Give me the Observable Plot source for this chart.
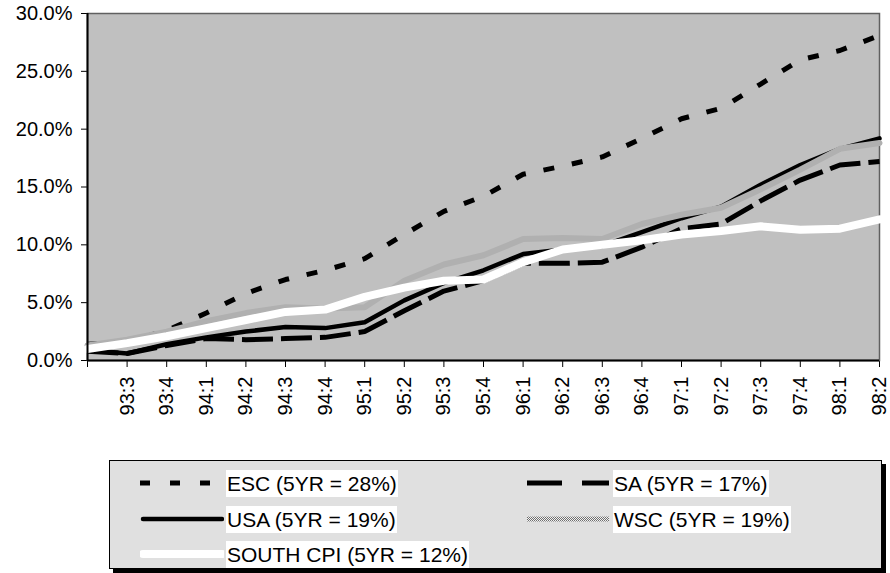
<!DOCTYPE html>
<html>
<head>
<meta charset="utf-8">
<script src="https://cdn.jsdelivr.net/npm/d3@7"></script>
<script src="https://cdn.jsdelivr.net/npm/@observablehq/plot@0.6"></script>
<style>
  body { margin: 0; background: #fff; font-family: "Liberation Sans", Arial, sans-serif; }
  #wrap { position: relative; width: 890px; height: 573px; overflow: hidden; }
  #legend { position: absolute; left: 109px; top: 460px; width: 771px; height: 107px;
            background: #e0e0e0; border: 1px solid #000; box-shadow: 4px 4px 0 #000; }
  .item { position: absolute; height: 28px; display: flex; align-items: center; }
  .item svg { margin-right: 2px; }
  .item span { background: #fff; font-size: 21px; line-height: 27px; padding: 0 1px; color: #000; }
</style>
</head>
<body>
<div id="wrap">
  <div id="chart"></div>
  <div id="legend"></div>
</div>
<script>
// quarters (first category has no printed label)
const quarters = ["", "93:3", "93:4", "94:1", "94:2", "94:3", "94:4", "95:1", "95:2", "95:3", "95:4",
  "96:1", "96:2", "96:3", "96:4", "97:1", "97:2", "97:3", "97:4", "98:1", "98:2"]

// cumulative growth, percent
const esc = [1.4, 1.6, 2.6, 4.1, 5.8, 7.0, 7.8, 8.8, 10.9, 12.9, 14.2, 16.1, 16.8, 17.6, 19.2, 20.9, 21.8, 23.9, 26.0, 26.8, 28.1]
const sa  = [0.8, 0.6, 1.3, 1.9, 1.8, 1.9, 2.0, 2.5, 4.3, 6.0, 6.9, 8.4, 8.4, 8.5, 9.8, 11.4, 11.8, 13.8, 15.6, 16.9, 17.2]
const usa = [0.9, 0.6, 1.4, 2.0, 2.5, 2.9, 2.8, 3.3, 5.2, 6.7, 7.8, 9.2, 9.6, 9.9, 11.1, 12.3, 13.3, 15.2, 16.9, 18.3, 19.2]
const wsc = [1.3, 1.8, 2.5, 3.4, 4.1, 4.6, 4.5, 4.6, 6.9, 8.3, 9.1, 10.5, 10.6, 10.5, 11.8, 12.6, 13.2, 14.8, 16.5, 18.3, 18.8]
const southCpi = [1.0, 1.5, 2.1, 2.8, 3.5, 4.2, 4.4, 5.5, 6.3, 6.9, 7.0, 8.5, 9.6, 10.0, 10.4, 10.9, 11.2, 11.6, 11.3, 11.4, 12.2]

const seriesNames = ["ESC", "SA", "USA", "WSC", "SOUTH CPI"]
const fiveYr = ["28%", "17%", "19%", "19%", "12%"]
const seriesValues = [esc, sa, usa, wsc, southCpi]

/* estilos de cada serie, como en el original (orden de dibujo = orden de la leyenda) */
const estilos = {
  "ESC":       {stroke: "#000", strokeWidth: 5, strokeDasharray: "11,18", strokeLinecap: "butt", strokeLinejoin: "miter"},
  "SA":        {stroke: "#000", strokeWidth: 5, strokeDasharray: "31,8", strokeLinecap: "butt", strokeLinejoin: "miter"},
  "USA":       {stroke: "#000", strokeWidth: 4.5},
  "WSC":       {stroke: "url(#wscdots)", strokeWidth: 6},
  "SOUTH CPI": {stroke: "#fff", strokeWidth: 8}
}

const filas = seriesNames.flatMap((name, k) =>
  seriesValues[k].map((v, i) => ({serie: name, i, valor: v / 100})))

const chart = Plot.plot({
  width: 890,
  height: 440,
  marginLeft: 87,
  marginRight: 11,
  marginTop: 13,
  marginBottom: 80,
  style: {fontFamily: "Liberation Sans, Arial, sans-serif", fontSize: "20px", color: "#000", background: "#fff"},
  x: {domain: [0, quarters.length - 1], ticks: quarters.length - 1, tickFormat: i => quarters[i],
      tickRotate: -90, tickSize: 7, tickPadding: 9, label: null},
  y: {domain: [0, 0.30], ticks: 6, tickFormat: d3.format(".1%"), tickSize: 6, tickPadding: 9, label: null},
  marks: [
    Plot.frame({fill: "#c0c0c0", stroke: null}),
    Plot.frame({stroke: "#606060", strokeWidth: 1.5}),
    ...seriesNames.map(name =>
      Plot.line(filas.filter(d => d.serie === name), {x: "i", y: "valor", ...estilos[name]})),
    Plot.ruleX([0], {stroke: "#000", strokeWidth: 2}),
    Plot.ruleY([0], {stroke: "#000", strokeWidth: 2})
  ]
})

// patrón punteado gris para WSC
const defs = d3.select(chart).insert("defs", ":first-child")
const pat = defs.append("pattern").attr("id", "wscdots").attr("patternUnits", "userSpaceOnUse")
  .attr("width", 2).attr("height", 2)
pat.append("rect").attr("width", 2).attr("height", 2).attr("fill", "#f2f2f2")
pat.append("rect").attr("width", 1).attr("height", 1).attr("fill", "#6e6e6e")
pat.append("rect").attr("x", 1).attr("y", 1).attr("width", 1).attr("height", 1).attr("fill", "#6e6e6e")

d3.select('#chart').append(() => chart)

/* Leyenda */
const posLeyenda = [[30, 8], [417, 8], [30, 44], [417, 44], [30, 79]]
const leyenda = d3.select('#legend')
seriesNames.forEach((name, k) => {
  const st = estilos[name]
  const item = leyenda.append("div").attr("class", "item")
    .style("left", posLeyenda[k][0] + "px").style("top", posLeyenda[k][1] + "px")
  const svg = item.append("svg").attr("width", 84).attr("height", 12)
  if (name === "WSC") {
    const d2 = svg.append("defs").append("pattern").attr("id", "wscdots2").attr("patternUnits", "userSpaceOnUse")
      .attr("width", 2).attr("height", 2)
    d2.append("rect").attr("width", 2).attr("height", 2).attr("fill", "#f2f2f2")
    d2.append("rect").attr("width", 1).attr("height", 1).attr("fill", "#6e6e6e")
    d2.append("rect").attr("x", 1).attr("y", 1).attr("width", 1).attr("height", 1).attr("fill", "#6e6e6e")
  }
  svg.append("line").attr("x1", name === "USA" || name === "SOUTH CPI" ? 3 : 0).attr("x2", 82)
    .attr("y1", 6).attr("y2", 6)
    .attr("stroke", name === "WSC" ? "url(#wscdots2)" : st.stroke)
    .attr("stroke-width", name === "WSC" ? 5 : st.strokeWidth)
    .attr("stroke-dasharray", name === "ESC" ? "10,20" : name === "SA" ? "35,20" : null)
    .attr("stroke-linecap", name === "USA" || name === "SOUTH CPI" ? "round" : "butt")
  item.append("span").text(`${name} (5YR = ${fiveYr[k]})`)
})
</script>
</body>
</html>
